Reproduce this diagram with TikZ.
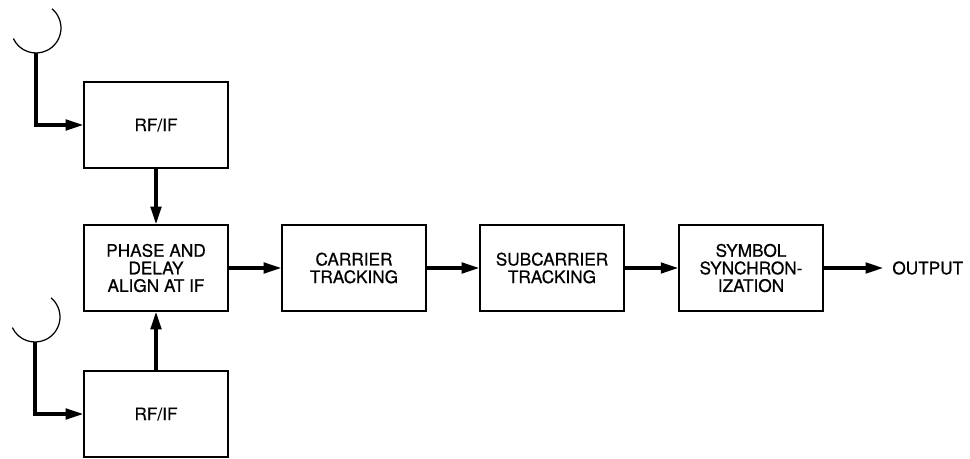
\documentclass[tikz,border=0pt]{standalone}
\usepackage{fontspec}
\setmainfont{TeX Gyre Heros}[FakeBold=0.6]
\usetikzlibrary{arrows.meta}
\begin{document}
\begin{tikzpicture}[x=0.02cm, y=-0.02cm,
	block/.style={draw, line width=0.8pt, minimum width=2.88cm, minimum height=1.72cm,
		align=center, font=\fontsize{9.8}{10}\selectfont},
	flow/.style={-{Triangle[length=10pt,width=6pt]}, line width=1.8pt},
	dish/.style={line width=0.7pt}]
	\useasboundingbox (0,0) rectangle (970,459);

	\node[block] (rf1) at (156,125) {RF/IF};
	\node[block] (align) at (156,268) {PHASE AND\\DELAY\\ALIGN AT IF};
	\node[block] (rf2) at (156,414) {RF/IF};
	\node[block] (carrier) at (354,268) {CARRIER\\TRACKING};
	\node[block] (sub) at (552,268) {SUBCARRIER\\TRACKING};
	\node[block] (sym) at (751,268) {SYMBOL\\SYNCHRON-\\IZATION};
	\node[anchor=west, font=\fontsize{9.8}{10}\selectfont, inner sep=0pt] (out) at (892,268) {OUTPUT};

	% antennas
	\draw[dish] (36,28) ++(155:25) arc (155:-50:25);
	\coordinate (ant1) at (36,53);
	\draw[dish] (35,317) ++(155:25) arc (155:-50:25);
	\coordinate (ant2) at (35,342);

	\draw[flow] (ant1) |- (rf1.west);
	\draw[flow] (ant2) |- (rf2.west);
	\draw[flow] (rf1) -- (align);
	\draw[flow] (rf2) -- (align);
	\draw[flow] (align) -- (carrier);
	\draw[flow] (carrier) -- (sub);
	\draw[flow] (sub) -- (sym);
	\draw[flow] (sym) -- ([xshift=-5pt]out.west);
\end{tikzpicture}
\end{document}
